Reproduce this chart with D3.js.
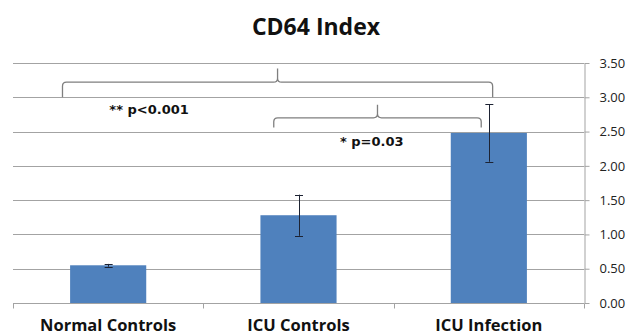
<!DOCTYPE html>
<html>
<head>
<meta charset="utf-8">
<script src="https://cdn.jsdelivr.net/npm/d3@7"></script>
<style>
  body { margin: 0; background: #fff; }
  svg { display: block; }
</style>
</head>
<body>
<div id="chart"></div>
<script>
/* Chart data */
var categories = ["Normal Controls", "ICU Controls", "ICU Infection"];
var means = [0.55, 1.28, 2.48];
var errors = [0.02, 0.30, 0.42];
var yTicks = [0, 0.5, 1.0, 1.5, 2.0, 2.5, 3.0, 3.5];

/* Significance braces: ends given as category positions, levels as index values */
var braceFrom = [-0.24, 0.87];
var braceTo = [2.02, 1.96];
var braceBase = [3.0, 2.56];
var braceLevel = [3.22, 2.70];
var bracePeak = [3.42, 2.89];
var pLabels = ["** p<0.001", "* p=0.03"];
var pLabelPos = [0.215, 1.385];
var pLabelLevel = [2.82, 2.36];

/* Dimensions */
var W = 626, H = 335;
var margin = {top: 63, right: 42, bottom: 32, left: 13},
    width = W - margin.left - margin.right,
    height = H - margin.top - margin.bottom;

var svg = d3.select("#chart").append("svg")
    .attr("width", W).attr("height", H);

var g = svg.append("g")
    .attr("transform", "translate(" + margin.left + "," + margin.top + ")");

var x = d3.scaleBand()
    .domain(categories)
    .range([0, width])
    .paddingInner(0.6)
    .paddingOuter(0.3);

var y = d3.scaleLinear()
    .domain([0, 3.5])
    .range([height, 0]);

/* category index -> pixel, used for the braces */
var xi = d3.scaleLinear()
    .domain([0, 1])
    .range([x(categories[0]) + x.bandwidth() / 2, x(categories[1]) + x.bandwidth() / 2]);

/* Title */
svg.append("text")
    .attr("x", 316).attr("y", 35)
    .attr("text-anchor", "middle")
    .style("font-family", "'Open Sans', sans-serif")
    .style("font-weight", "bold")
    .style("font-size", "23px")
    .style("fill", "#111")
    .text("CD64 Index");

/* Gridlines */
g.append("g").selectAll("line")
    .data(yTicks)
    .enter().append("line")
    .attr("x1", 0).attr("x2", width)
    .attr("y1", function(d) { return Math.round(y(d)) + 0.5; })
    .attr("y2", function(d) { return Math.round(y(d)) + 0.5; })
    .style("stroke", "#a3a3a3")
    .style("stroke-width", 1);

/* Right axis */
var yAxis = g.append("g")
    .attr("transform", "translate(" + (width + 0.5) + ",0)")
    .call(d3.axisRight(y).tickValues(yTicks).tickFormat(d3.format(".2f")).tickSize(5).tickSizeOuter(0).tickPadding(10));
yAxis.selectAll("path, line").style("stroke", "#a3a3a3");
yAxis.selectAll("text")
    .style("font-family", "'Open Sans', sans-serif")
    .style("font-size", "13px")
    .style("fill", "#222");

/* Bottom axis: ticks on category boundaries */
var step = x.step();
var bounds = categories.map(function(c) { return x(c) - step * x.paddingOuter(); });
bounds.push(width);
g.append("g").selectAll("line")
    .data(bounds)
    .enter().append("line")
    .attr("x1", function(d) { return Math.round(d) + 0.5; })
    .attr("x2", function(d) { return Math.round(d) + 0.5; })
    .attr("y1", Math.round(y(0)) + 0.5)
    .attr("y2", Math.round(y(0)) + 5.5)
    .style("stroke", "#a3a3a3");

g.append("g").selectAll("text")
    .data(categories)
    .enter().append("text")
    .attr("x", function(d) { return x(d) + x.bandwidth() / 2; })
    .attr("y", height + 28)
    .attr("text-anchor", "middle")
    .style("font-family", "'Open Sans', sans-serif")
    .style("font-weight", "bold")
    .style("font-size", "16.5px")
    .style("fill", "#111")
    .text(function(d) { return d; });

/* Bars */
g.append("g").selectAll("rect")
    .data(categories)
    .enter().append("rect")
    .attr("x", function(d) { return x(d); })
    .attr("y", function(d, i) { return y(means[i]); })
    .attr("width", x.bandwidth())
    .attr("height", function(d, i) { return y(0) - y(means[i]); })
    .style("fill", "#4f81bd");

/* Error bars */
var eb = g.append("g").selectAll("g")
    .data(categories)
    .enter().append("g")
    .style("stroke", "#1d2333")
    .style("stroke-width", 1);
eb.append("line")
    .attr("x1", function(d) { return Math.round(x(d) + x.bandwidth() / 2) + 0.5; })
    .attr("x2", function(d) { return Math.round(x(d) + x.bandwidth() / 2) + 0.5; })
    .attr("y1", function(d, i) { return y(means[i] + errors[i]); })
    .attr("y2", function(d, i) { return y(means[i] - errors[i]); });
eb.selectAll("line.cap")
    .data(function(d, i) { return [[d, means[i] + errors[i]], [d, means[i] - errors[i]]]; })
    .enter().append("line")
    .attr("class", "cap")
    .attr("x1", function(d) { return x(d[0]) + x.bandwidth() / 2 - 3.5; })
    .attr("x2", function(d) { return x(d[0]) + x.bandwidth() / 2 + 4.5; })
    .attr("y1", function(d) { return Math.round(y(d[1])) + 0.5; })
    .attr("y2", function(d) { return Math.round(y(d[1])) + 0.5; });

/* Braces */
function bracePath(i) {
    var xl = xi(braceFrom[i]), xr = xi(braceTo[i]), xm = (xl + xr) / 2;
    var yb = y(braceBase[i]), yh = y(braceLevel[i]), yp = y(bracePeak[i]);
    var r = 4;
    return "M" + xl + "," + yb +
        "L" + xl + "," + (yh + r) +
        "Q" + xl + "," + yh + "," + (xl + r) + "," + yh +
        "L" + (xm - r) + "," + yh +
        "Q" + xm + "," + yh + "," + xm + "," + (yh - r) +
        "L" + xm + "," + yp +
        "L" + xm + "," + (yh - r) +
        "Q" + xm + "," + yh + "," + (xm + r) + "," + yh +
        "L" + (xr - r) + "," + yh +
        "Q" + xr + "," + yh + "," + xr + "," + (yh + r) +
        "L" + xr + "," + yb;
}

g.append("g").selectAll("path")
    .data(braceFrom)
    .enter().append("path")
    .attr("d", function(d, i) { return bracePath(i); })
    .style("fill", "none")
    .style("stroke", "#7f7f7f")
    .style("stroke-width", 1.3);

g.append("g").selectAll("text")
    .data(pLabels)
    .enter().append("text")
    .attr("x", function(d, i) { return xi(pLabelPos[i]); })
    .attr("y", function(d, i) { return y(pLabelLevel[i]); })
    .attr("text-anchor", "middle")
    .attr("dy", "0.35em")
    .style("font-family", "'DejaVu Sans', sans-serif")
    .style("font-weight", "bold")
    .style("font-size", "13px")
    .style("fill", "#111")
    .text(function(d) { return d; });
</script>
</body>
</html>
